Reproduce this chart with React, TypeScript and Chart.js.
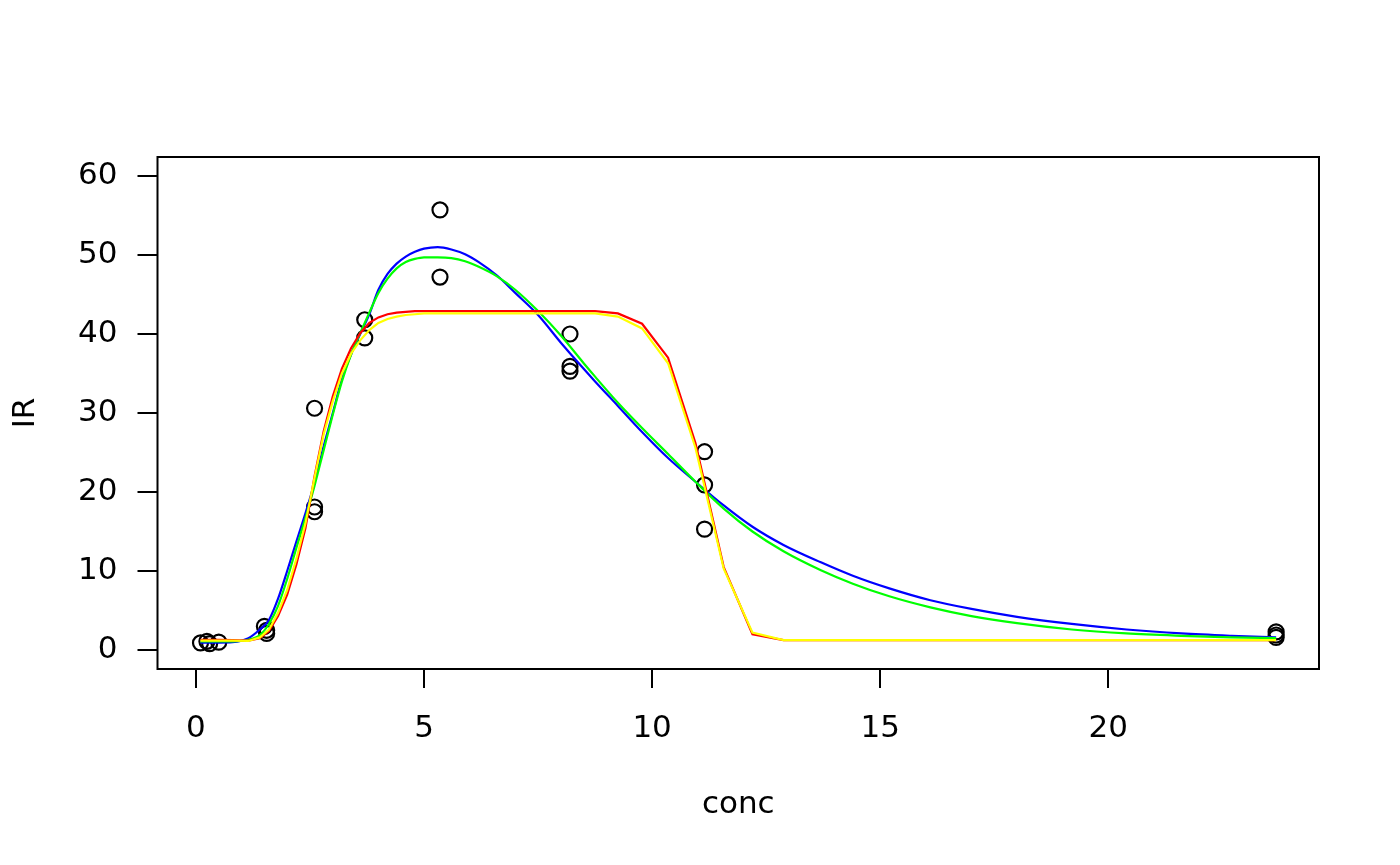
import { useEffect, useRef } from 'react'
import { Chart, registerables } from 'chart.js'

Chart.register(...registerables)

// observed data
const pointConc = [0.1, 0.24, 0.3, 0.5, 1.5, 1.55, 1.55, 2.6, 2.6, 2.6, 3.7, 3.7, 5.35, 5.35, 8.2, 8.2, 8.2, 11.15, 11.15, 11.15, 23.68, 23.68, 23.68]
const pointIR = [0.9, 1.1, 0.8, 1.0, 3.0, 2.1, 2.5, 30.6, 18.1, 17.5, 41.8, 39.5, 55.7, 47.2, 40.0, 35.9, 35.3, 25.1, 20.9, 15.3, 2.3, 1.6, 1.9]

// fitted curves
const curveConc = [
  0.1, 0.5, 0.8, 1.15, 1.4, 1.6, 1.8, 2.0, 2.2, 2.4, 2.6, 2.8, 3.0, 3.2, 3.4, 3.6, 3.8, 4.0, 4.2, 4.4,
  4.6, 4.8, 5.0, 5.3, 5.6, 5.9, 6.2, 6.6, 7.0, 7.5, 8.0, 8.5, 8.75, 9.25, 9.78, 10.35, 10.95, 11.57, 12.2, 12.88,
  13.7, 14.4, 15.2, 16.1, 17.0, 18.0, 19.2, 20.4, 21.6, 22.7, 23.68,
]
const blueIR = [
  0.95, 0.95, 1.0, 1.5, 2.6, 3.8, 6.5, 10.0, 13.7, 17.3, 21.2, 25.8, 30.0, 34.3, 37.4, 40.0, 42.5, 45.6, 47.6, 48.9,
  49.8, 50.4, 50.8, 51.0, 50.7, 50.1, 49.1, 47.4, 45.2, 42.4, 38.9, 35.6, 34.0, 30.9, 27.6, 24.3, 21.3, 18.3, 15.6, 13.3,
  11.1, 9.4, 7.8, 6.3, 5.2, 4.2, 3.3, 2.6, 2.1, 1.8, 1.6,
]
const greenIR = [
  1.1, 1.1, 1.1, 1.3, 1.9, 3.3, 5.6, 9.0, 12.9, 16.7, 20.8, 25.3, 29.8, 34.0, 37.4, 40.1, 42.7, 45.2, 47.0, 48.3,
  49.1, 49.5, 49.7, 49.7, 49.6, 49.2, 48.5, 47.3, 45.6, 42.9, 39.8, 36.3, 34.6, 31.3, 28.1, 24.8, 21.3, 17.9, 15.0, 12.5,
  10.1, 8.4, 6.8, 5.4, 4.3, 3.4, 2.6, 2.1, 1.8, 1.6, 1.5,
]
const redIR = [
  1.3, 1.3, 1.25, 1.2, 1.5, 2.4, 4.3, 7.0, 10.8, 15.4, 22.0, 27.7, 32.1, 35.6, 38.2, 40.1, 41.4, 42.1, 42.5, 42.7,
  42.8, 42.9, 42.9, 42.9, 42.9, 42.9, 42.9, 42.9, 42.9, 42.9, 42.9, 42.9, 42.9, 42.6, 41.3, 37.0, 26.2, 10.5, 2.0, 1.25,
  1.25, 1.25, 1.25, 1.25, 1.25, 1.25, 1.25, 1.25, 1.25, 1.25, 1.25,
]
const yellowIR = [
  1.2, 1.2, 1.2, 1.15, 1.6, 2.6, 4.7, 7.6, 11.5, 16.0, 21.8, 27.3, 31.5, 35.0, 37.5, 39.2, 40.5, 41.4, 41.9, 42.2,
  42.4, 42.5, 42.6, 42.6, 42.6, 42.6, 42.6, 42.6, 42.6, 42.6, 42.6, 42.6, 42.6, 42.2, 40.7, 36.3, 25.6, 10.3, 2.2, 1.25,
  1.25, 1.25, 1.25, 1.25, 1.25, 1.25, 1.25, 1.25, 1.25, 1.25, 1.25,
]

const xTicks = [0, 5, 10, 15, 20]
const yTicks = [0, 10, 20, 30, 40, 50, 60]

const FONT = { family: 'DejaVu Sans', size: 31 }

const toPoints = (ys: number[]) => curveConc.map((x, i) => ({ x, y: ys[i] }))

const curve = (label: string, color: string, ys: number[], order: number, smooth: boolean) => ({
  type: 'line' as const,
  label,
  data: toPoints(ys),
  borderColor: color,
  borderWidth: 2.2,
  pointRadius: 0,
  fill: false,
  showLine: true,
  tension: 0,
  cubicInterpolationMode: smooth ? ('monotone' as const) : ('default' as const),
  order,
})

// box around the plot region, like R's box()
const boxPlugin = {
  id: 'box',
  afterDraw(chart: Chart) {
    const { ctx, chartArea } = chart
    ctx.save()
    ctx.strokeStyle = '#000'
    ctx.lineWidth = 2
    ctx.strokeRect(chartArea.left, chartArea.top, chartArea.right - chartArea.left, chartArea.bottom - chartArea.top)
    ctx.restore()
  },
}

export default function App() {
  const canvasRef = useRef<HTMLCanvasElement>(null)
  const chartRef = useRef<Chart | null>(null)

  useEffect(() => {
    document.body.style.margin = '0'
    if (!canvasRef.current) return
    if (chartRef.current) chartRef.current.destroy()

    chartRef.current = new Chart(canvasRef.current, {
      type: 'scatter',
      data: {
        datasets: [
          {
            label: 'IR',
            data: pointConc.map((x, i) => ({ x, y: pointIR[i] })),
            pointRadius: 7.5,
            pointBorderWidth: 2.2,
            pointBorderColor: '#000',
            pointBackgroundColor: 'rgba(0,0,0,0)',
            showLine: false,
            order: 5,
          },
          curve('fit 1', '#0000ff', blueIR, 4, true),
          curve('fit 2', '#00ff00', greenIR, 3, true),
          curve('fit 3', '#ff0000', redIR, 2, false),
          curve('fit 4', '#ffff00', yellowIR, 1, false),
        ],
      },
      options: {
        responsive: false,
        animation: false,
        devicePixelRatio: 1,
        layout: { padding: { left: 0, top: 157, right: 81, bottom: 0 } },
        plugins: {
          legend: { display: false },
          tooltip: { enabled: false },
        },
        scales: {
          x: {
            type: 'linear',
            min: -0.843,
            max: 24.62,
            afterBuildTicks: (scale) => {
              scale.ticks = xTicks.map((value) => ({ value }))
            },
            afterFit: (scale) => {
              scale.height = 865 - 669
            },
            border: { display: false },
            grid: { drawOnChartArea: false, drawTicks: true, tickLength: 19, color: '#000', lineWidth: 2 },
            ticks: { color: '#000', font: FONT, padding: 22, maxRotation: 0 },
            title: { display: true, text: 'conc', color: '#000', font: FONT, padding: { top: 0, bottom: 41 } },
          },
          y: {
            type: 'linear',
            min: -2.4,
            max: 62.4,
            afterBuildTicks: (scale) => {
              scale.ticks = yTicks.map((value) => ({ value }))
            },
            afterFit: (scale) => {
              scale.width = 157.5
            },
            border: { display: false },
            grid: { drawOnChartArea: false, drawTicks: true, tickLength: 20, color: '#000', lineWidth: 2 },
            ticks: { color: '#000', font: FONT, padding: 20 },
            title: { display: true, text: 'IR', color: '#000', font: FONT, padding: { top: 7, bottom: 0 } },
          },
        },
      },
      plugins: [boxPlugin],
    })

    return () => {
      if (chartRef.current) {
        chartRef.current.destroy()
        chartRef.current = null
      }
    }
  }, [])

  return (
    <div style={{ width: 1400, height: 865, background: '#fff' }}>
      <canvas ref={canvasRef} width={1400} height={865} />
    </div>
  )
}
